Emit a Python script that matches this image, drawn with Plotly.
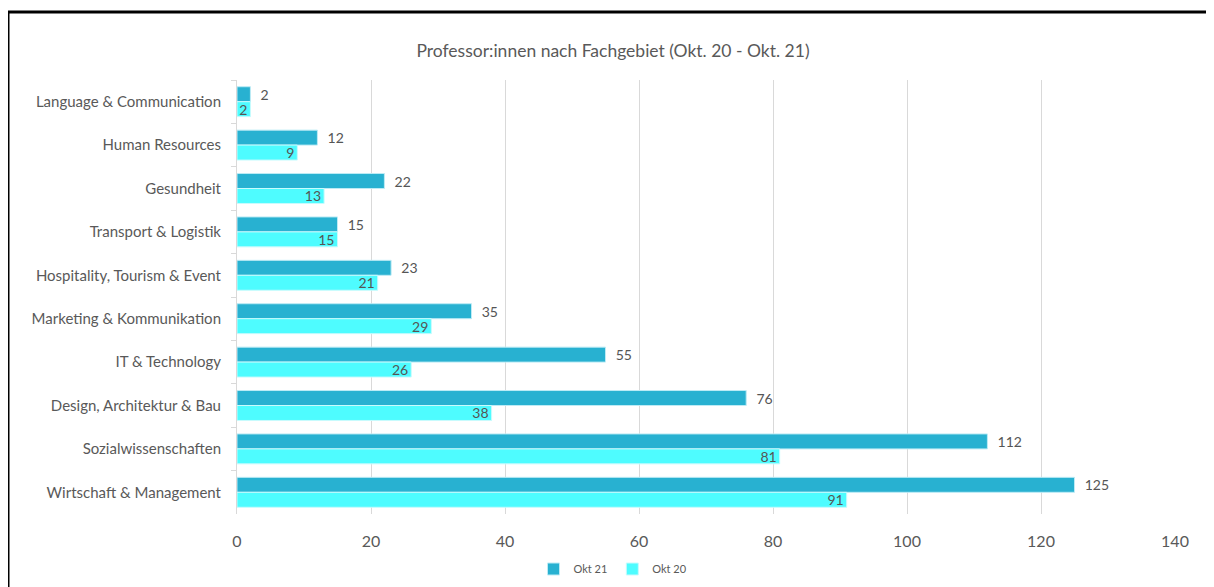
import plotly.graph_objects as go

categories = ["Language & Communication", "Human Resources", "Gesundheit", "Transport & Logistik",
              "Hospitality, Tourism & Event", "Marketing & Kommunikation", "IT & Technology",
              "Design, Architektur & Bau", "Sozialwissenschaften", "Wirtschaft & Management"]
okt21 = [2, 12, 22, 15, 23, 35, 55, 76, 112, 125]
okt20 = [2, 9, 13, 15, 21, 29, 26, 38, 81, 91]
x_ticks = [0, 20, 40, 60, 80, 100, 120, 140]
title = "Professor:innen nach Fachgebiet (Okt. 20 - Okt. 21)"

FONT = "Lato"
GRAY = "#595959"
LABEL = "#555555"

# page body has an 8px margin; compensate so the figure lands at window coords
OFF = 8
W, H = 1214 - OFF, 587 - OFF
L, R, T, B = 237 - OFF, 39, 80 - OFF, 73

fig = go.Figure()
fig.add_trace(go.Bar(
    y=categories, x=okt21, orientation="h", name="Okt 21",
    marker=dict(color="#28B1D1", line=dict(color="#BDEBF5", width=1)),
    text=okt21, texttemplate="\u00a0\u00a0%{x}", textposition="outside", cliponaxis=False,
    constraintext="none", textangle=0,
    textfont=dict(family=FONT, size=14, color=LABEL),
))
fig.add_trace(go.Bar(
    y=categories, x=okt20, orientation="h", name="Okt 20",
    marker=dict(color="#4EFCFF", line=dict(color="#C8FBFD", width=1)),
    text=okt20, textposition="inside", insidetextanchor="end", constraintext="none", textangle=0,
    textfont=dict(family=FONT, size=14, color=LABEL),
))

pw = W - L - R
ph = H - T - B
# border in window coords: left x=7, top y=11
fig.add_shape(type="rect", xref="paper", yref="paper",
              x0=(8 - OFF - L) / pw, x1=(W + 20 - L) / pw,
              y0=(H - B - (H + 20)) / ph, y1=(H - B - (12 - OFF)) / ph,
              line=dict(color="black", width=3), fillcolor="rgba(0,0,0,0)", layer="above")

fig.update_layout(
    width=W, height=H,
    margin=dict(l=L, r=R, t=T, b=B, autoexpand=False),
    paper_bgcolor="white", plot_bgcolor="white",
    barmode="group", bargap=0.31, bargroupgap=0,
    font=dict(family=FONT, color=GRAY),
    title=dict(text=title, x=(613 - OFF) / W, xref="container", xanchor="center",
               y=1 - (51 - OFF) / H, yref="container", yanchor="middle",
               font=dict(family=FONT, size=17.5, color=GRAY)),
    legend=dict(orientation="h", x=(613 - OFF) / W, xref="container", xanchor="center",
                y=1 - (569 - OFF) / H, yref="container", yanchor="middle",
                font=dict(family=FONT, size=11, color=GRAY),
                itemwidth=30, traceorder="normal"),
    xaxis=dict(range=[0, 140], tickvals=x_ticks, showgrid=True, gridcolor="#D9D9D9",
               gridwidth=1, zeroline=False, showline=False,
               tickfont=dict(family=FONT, size=16, color=GRAY), ticklabelstandoff=16),
    yaxis=dict(autorange="reversed", showline=True, linecolor="#D9D9D9", linewidth=1,
               ticks="outside", tickson="boundaries", ticklen=5, tickcolor="#D9D9D9",
               tickfont=dict(family=FONT, size=15, color=GRAY), ticklabelstandoff=12,
               showgrid=False),
)

fig.write_html("out.html")
